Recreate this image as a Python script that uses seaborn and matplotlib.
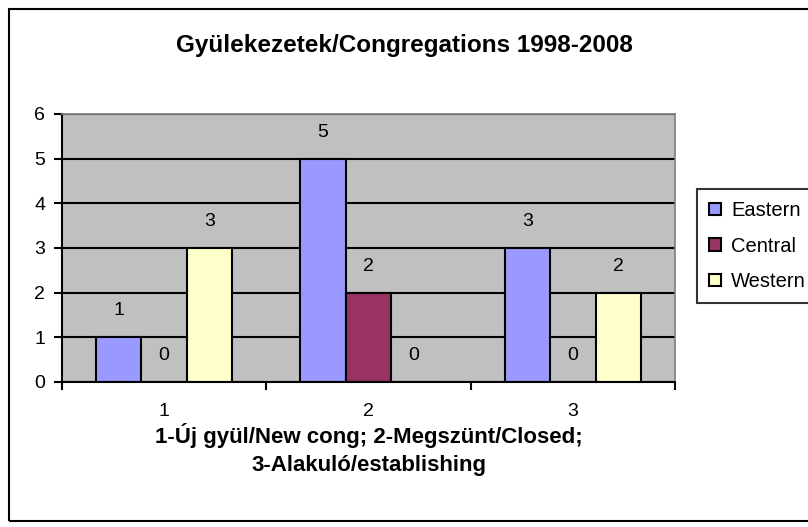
import matplotlib
matplotlib.use("Agg")
import matplotlib.pyplot as plt
import seaborn as sns
import pandas as pd
from matplotlib.patches import Rectangle

categories = ["1", "2", "3"]
regions = ["Eastern", "Central", "Western"]
eastern = [1, 5, 3]
central = [0, 2, 0]
western = [3, 0, 2]
colors = ["#9999FF", "#993366", "#FFFFCC"]
title = "Gyülekezetek/Congregations 1998-2008"
xlabel = "1-Új gyül/New cong; 2-Megszünt/Closed;\n3-Alakuló/establishing"

rows = []
for reg, vals in zip(regions, [eastern, central, western]):
    for c, v in zip(categories, vals):
        rows.append({"cat": c, "region": reg, "value": v})
df = pd.DataFrame(rows)

sns.set_theme(style="white")
plt.rcParams["font.family"] = ["Liberation Sans", "DejaVu Sans"]
plt.rcParams["text.color"] = "black"
plt.rcParams["axes.labelcolor"] = "black"
plt.rcParams["xtick.color"] = "black"
plt.rcParams["ytick.color"] = "black"
plt.rcParams["xtick.labelcolor"] = "black"
plt.rcParams["ytick.labelcolor"] = "black"

fig = plt.figure(figsize=(8.08, 5.27), dpi=100)
ax = fig.add_axes([62/808, 1-382/527, (675-62)/808, (382-114)/527])
ax.set_facecolor("#C0C0C0")

sns.barplot(data=df, x="cat", y="value", hue="region", order=categories,
            hue_order=regions, palette=colors, width=0.667,
            edgecolor="black", linewidth=1.5, ax=ax, legend=True, saturation=1)

ax.set_ylim(0, 6)
ax.set_xlim(-0.5, 2.5)
ax.set_yticks(range(0, 7))
ax.yaxis.grid(True, color="black", linewidth=1.5)
ax.set_axisbelow(True)

for cont in ax.containers:
    for bar in cont:
        h = bar.get_height()
        ax.annotate(f"{int(h)}", (bar.get_x() + bar.get_width()/2, h),
                    xytext=(0, 19), textcoords="offset points",
                    ha="center", va="center", fontsize=14, color="black")

for s in ["top", "right"]:
    ax.spines[s].set_color("#808080")
    ax.spines[s].set_linewidth(1.2)
for s in ["left", "bottom"]:
    ax.spines[s].set_color("black")
    ax.spines[s].set_linewidth(1.5)

ax.tick_params(axis="y", which="major", direction="out", length=6, width=1.5,
               color="black", labelcolor="black", labelsize=14, left=True, pad=6)
ax.tick_params(axis="x", which="major", length=0, labelsize=14, pad=15,
               labelcolor="black")
ax.set_xticks([-0.5, 0.5, 1.5, 2.5], minor=True)
ax.tick_params(axis="x", which="minor", direction="out", length=6, width=1.5,
               color="black", bottom=True)

ax.set_xlabel(xlabel, fontsize=16, fontweight="bold", linespacing=1.45, color="black")
ax.xaxis.set_label_coords(0.5, (382-423)/268)
ax.set_ylabel("")
fig.text(0.5, 1-45/527, title, ha="center", va="center", fontsize=17.5,
         fontweight="bold", color="black")

handles, labels = ax.get_legend_handles_labels()
ax.get_legend().remove()
leg = fig.legend(handles, labels, loc="upper left",
                 bbox_to_anchor=(697/808, 1-189/527), frameon=True,
                 fancybox=False, edgecolor="black", fontsize=14.5,
                 handlelength=0.6, handleheight=0.6, handletextpad=0.5,
                 labelspacing=0.82, borderpad=0.6, borderaxespad=0,
                 labelcolor="black")
leg.get_frame().set_linewidth(1.5)
for h in leg.legend_handles:
    h.set_edgecolor("black")
    h.set_linewidth(1.5)

fig.patches.append(Rectangle((9/808, 6/527), 1.0, (520-8)/527,
                             transform=fig.transFigure, fill=False,
                             edgecolor="black", linewidth=1.5))

fig.savefig("out.png", dpi=100, facecolor="white")
